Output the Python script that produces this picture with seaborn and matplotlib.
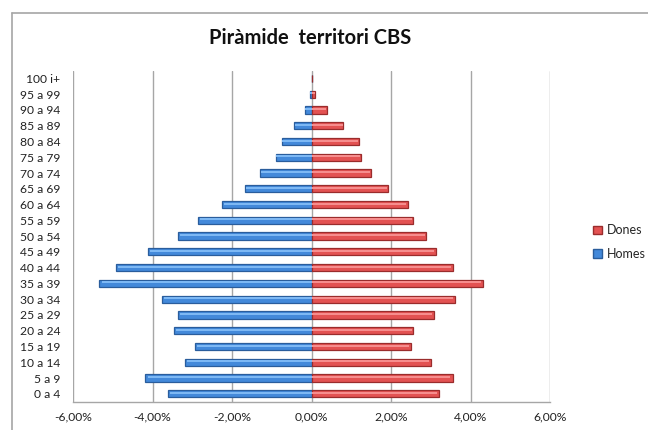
import matplotlib
matplotlib.use("Agg")
import matplotlib.pyplot as plt
import matplotlib.patches as mpatches
import matplotlib.lines as mlines
import seaborn as sns
import pandas as pd
from matplotlib.ticker import FuncFormatter

# Data (bottom to top as in the original chart)
groups = ["0 a 4", "5 a 9", "10 a 14", "15 a 19", "20 a 24", "25 a 29", "30 a 34",
          "35 a 39", "40 a 44", "45 a 49", "50 a 54", "55 a 59", "60 a 64", "65 a 69",
          "70 a 74", "75 a 79", "80 a 84", "85 a 89", "90 a 94", "95 a 99", "100 i+"]
homes = [3.62, 4.18, 3.17, 2.93, 3.47, 3.35, 3.76, 5.35, 4.93, 4.12, 3.37, 2.86,
         2.24, 1.68, 1.29, 0.90, 0.75, 0.43, 0.16, 0.05, 0.0]
dones = [3.20, 3.55, 3.01, 2.50, 2.56, 3.07, 3.61, 4.32, 3.57, 3.13, 2.89, 2.56,
         2.42, 1.93, 1.49, 1.25, 1.19, 0.80, 0.38, 0.08, 0.02]
xticks = [-6, -4, -2, 0, 2, 4, 6]
title = "Piràmide  territori CBS"

sns.set_theme(style="white")
plt.rcParams['font.family'] = ['Lato', 'DejaVu Sans']

df = pd.DataFrame({"grup": groups, "Homes": [-h for h in homes], "Dones": dones})
order = groups[::-1]

fig = plt.figure(figsize=(6.48, 4.30), dpi=100)
ax = fig.add_axes([73/648, 1-401.7/430, (550-73)/648, (401.7-70.5)/430])

blue_main, blue_dark, blue_light = "#4389da", "#2a5d9c", "#7db8f4"
red_main, red_dark, red_light = "#e35252", "#9a2c2c", "#f68d8d"
bh = 0.46

sns.barplot(data=df, y="grup", x="Homes", order=order, orient="h", color=blue_main,
            saturation=1, width=bh, edgecolor=blue_dark, linewidth=0.9, ax=ax, zorder=3)
sns.barplot(data=df, y="grup", x="Dones", order=order, orient="h", color=red_main,
            saturation=1, width=bh, edgecolor=red_dark, linewidth=0.9, ax=ax, zorder=3)

# highlight stripe (3D look)
ypos = [order.index(g) for g in df["grup"]]
ax.barh([y - 0.06 for y in ypos], df["Homes"] * 0.985, height=0.13, color=blue_light,
        linewidth=0, zorder=4)
ax.barh([y - 0.06 for y in ypos], df["Dones"] * 0.985, height=0.13, color=red_light,
        linewidth=0, zorder=4)

ax.set_xlim(-6, 6)
ax.set_ylim(20.5, -0.5)
ax.set_xticks(xticks)
ax.xaxis.set_major_formatter(FuncFormatter(lambda v, p: f"{v:.2f}%".replace(".", ",")))
ax.set_xlabel("")
ax.set_ylabel("")
ax.grid(axis="x", color="#a6a6a6", linewidth=1.0, zorder=0)
ax.grid(axis="y", visible=False)
for s in ["top", "right", "left"]:
    ax.spines[s].set_visible(False)
ax.spines["bottom"].set_color("#a6a6a6")
ax.spines["bottom"].set_linewidth(1.0)
ax.tick_params(axis="y", length=0, pad=9, labelsize=8.7, labelcolor="#222222")
ax.tick_params(axis="x", length=0, pad=7, labelsize=8.7, labelcolor="#222222")

fig.text(310/648, 1-38/430, title, ha="center", va="center", fontsize=14.5,
         fontweight="bold", color="#111111")

# Legend
handles = [mpatches.Patch(facecolor=red_main, edgecolor=red_dark, label="Dones"),
           mpatches.Patch(facecolor=blue_main, edgecolor=blue_dark, label="Homes")]
fig.legend(handles=handles, loc="center left", bbox_to_anchor=(587/648, 1-242/430),
           frameon=False, fontsize=9, handlelength=0.7, handleheight=0.7,
           handletextpad=0.4, labelspacing=0.9, borderpad=0)

# chart border (top and left visible)
fig.add_artist(mlines.Line2D([12/648, 1.0], [1-13/430, 1-13/430], color="#a6a6a6", lw=1.2))
fig.add_artist(mlines.Line2D([12/648, 12/648], [0, 1-13/430], color="#a6a6a6", lw=1.2))

fig.savefig("out.png", dpi=100)
